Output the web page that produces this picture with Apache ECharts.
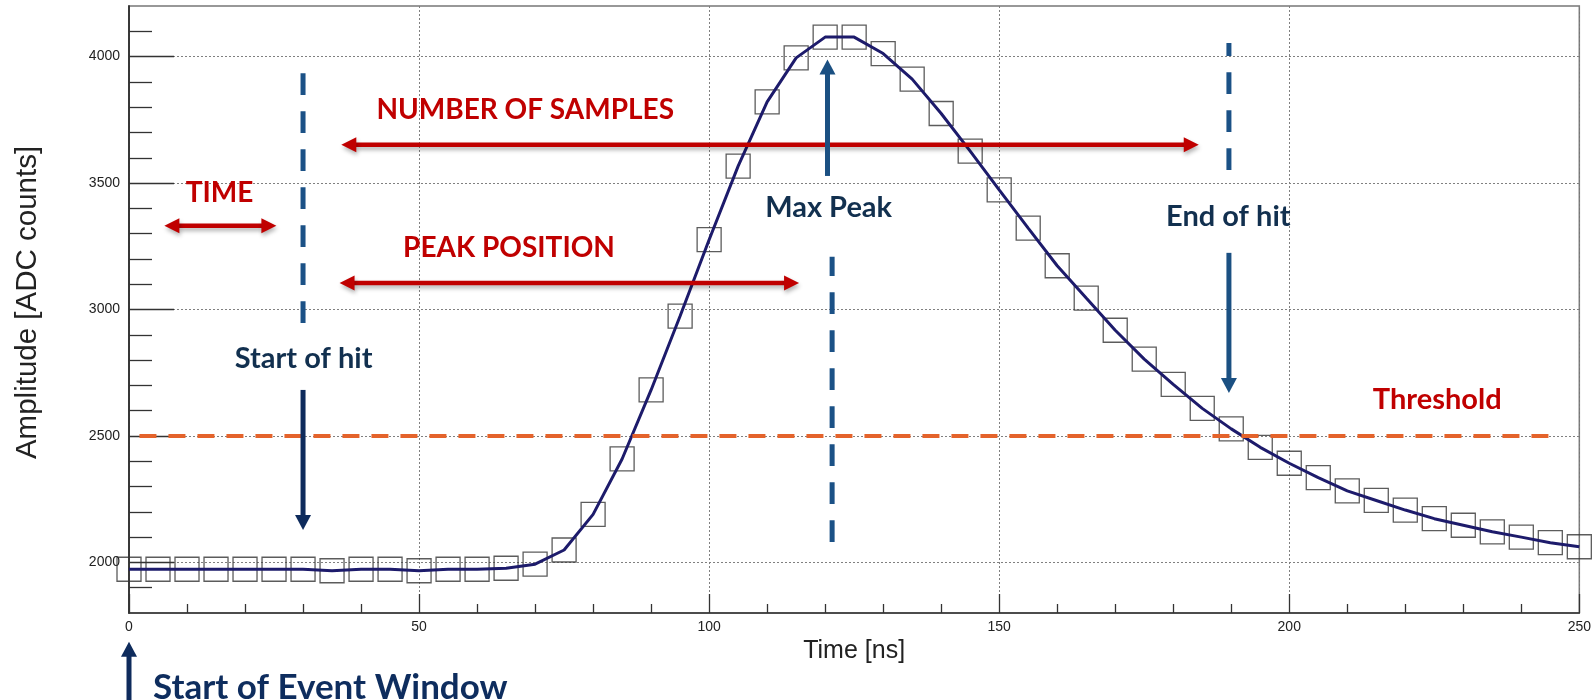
<!DOCTYPE html>
<html><head><meta charset="utf-8">
<script src="https://cdn.jsdelivr.net/npm/echarts@6/dist/echarts.min.js"></script>
<style>html,body{margin:0;padding:0;background:#fff}#c{width:1594px;height:700px}</style>
</head><body><div id="c"></div>
<script>
// ---- data ----
const sampleTimes = [0,5,10,15,20,25,30,35,40,45,50,55,60,65,70,75,80,85,90,95,100,105,110,115,120,125,130,135,140,145,150,155,160,165,170,175,180,185,190,195,200,205,210,215,220,225,230,235,240,245,250];
const amplitudes  = [1973,1973,1973,1973,1973,1973,1973,1967,1973,1973,1967,1973,1973,1977,1993,2049,2190,2409,2682,2974,3276,3567,3821,3995,4077,4077,4012,3911,3775,3626,3473,3322,3173,3045,2918,2804,2704,2609,2528,2455,2392,2335,2283,2245,2207,2173,2147,2121,2100,2078,2062];
const xTickLabels = [0,50,100,150,200,250];
const yMajorTicks = [2000,2500,3000,3500,4000];
const yMinorTicks = [1900,2100,2200,2300,2400,2600,2700,2800,2900,3100,3200,3300,3400,3600,3700,3800,3900,4100];
const thresholdLevel = 2500;

// ---- annotations (data coordinates: [time, amplitude]) ----
const noteTexts = [
  {text:'NUMBER OF SAMPLES', at:[68.3,3789], kind:'red'},
  {text:'TIME', at:[15.6,3461], kind:'red'},
  {text:'PEAK POSITION', at:[65.5,3243], kind:'red'},
  {text:'Threshold', at:[225.5,2642], kind:'red2'},
  {text:'Max Peak', at:[120.6,3401], kind:'navy'},
  {text:'Start of hit', at:[30.1,2806], kind:'navy'},
  {text:'End of hit', at:[189.5,3366], kind:'navy'},
  {text:'Start of Event Window', at:[34.7,1505], kind:'big'}
];
const doubleArrows = [
  {from:[36.6,3651], to:[184.4,3651]},
  {from:[6.1,3331], to:[25.4,3331]},
  {from:[36.3,3105], to:[115.5,3105]}
];
const singleArrows = [
  {from:[30,2682], to:[30,2128], color:'#0e2b5c'},
  {from:[120.4,3528], to:[120.4,3988], color:'#1b5082'},
  {from:[189.6,3224], to:[189.6,2670], color:'#1b5082'},
  {from:[0,1440], to:[0,1686], color:'#0e2b5c'}
];
const dashedMarkers = [
  {from:[30,3934], to:[30,2947]},
  {from:[121.2,2081], to:[121.2,3209]},
  {from:[189.6,3552], to:[189.6,4054]}
];
const thresholdSpan = [1.8, 245.3];

const FONT = "'Liberation Sans', Arial, Helvetica, sans-serif";
const AFONT = "Lato, 'Open Sans', sans-serif";

const chart = echarts.init(document.getElementById('c'), null, {renderer:'canvas'});
const seriesData = sampleTimes.map((t,i)=>[t, amplitudes[i]]);

chart.setOption({
  animation:false,
  backgroundColor:'#ffffff',
  grid:{left:129, right:13, top:6, bottom:87, show:true, borderColor:'#777', borderWidth:1.5, backgroundColor:'#fff'},
  xAxis:{
    type:'value', min:0, max:250, interval:50,
    name:'Time [ns]', nameLocation:'middle', nameGap:26,
    nameTextStyle:{fontFamily:FONT, fontSize:25, color:'#222'},
    axisLine:{show:true, lineStyle:{color:'#333', width:1.5}},
    axisTick:{inside:true, length:19, lineStyle:{color:'#333', width:1.3}},
    minorTick:{show:true, splitNumber:5, length:9, lineStyle:{color:'#333', width:1.3}},
    axisLabel:{fontFamily:FONT, fontSize:14, color:'#222', margin:7,
      formatter:v=> xTickLabels.includes(v) ? String(v) : ''},
    splitLine:{show:true, lineStyle:{color:'#808080', type:[2,2], width:1}}
  },
  yAxis:[{
    type:'value', min:1800, max:4200, position:'left',
    name:'Amplitude [ADC counts]', nameLocation:'middle', nameGap:86,
    nameTextStyle:{fontFamily:FONT, fontSize:29.5, color:'#222', padding:[0,0,0,14]},
    axisLine:{show:true, lineStyle:{color:'#333', width:1.5}},
    axisTick:{customValues:yMajorTicks, inside:true, length:45, lineStyle:{color:'#333', width:1.3}},
    axisLabel:{customValues:yMajorTicks, fontFamily:FONT, fontSize:14, color:'#222', margin:9,
      formatter:v=>String(v)},
    splitLine:{show:true, lineStyle:{color:'#808080', type:[2,2], width:1}}
  },{
    type:'value', min:1800, max:4200, position:'left',
    axisLine:{show:true, lineStyle:{color:'#333', width:1.5}},
    axisTick:{customValues:yMinorTicks, inside:true, length:23, lineStyle:{color:'#333', width:1.3}},
    axisLabel:{show:false},
    splitLine:{show:false}
  }],
  series:[
    {type:'scatter', data:seriesData, symbol:'rect', symbolSize:24, silent:true, z:2,
     itemStyle:{color:'rgba(0,0,0,0)', borderColor:'#333', borderWidth:1.3}},
    {type:'line', data:seriesData, showSymbol:false, symbol:'none', silent:true, z:3,
     lineStyle:{color:'#1d1b6b', width:3}}
  ]
});

function P(c){ return chart.convertToPixel({xAxisIndex:0, yAxisIndex:0}, c); }

function arrowEls(p0, p1, o){
  const dx=p1[0]-p0[0], dy=p1[1]-p0[1], L=Math.hypot(dx,dy), ux=dx/L, uy=dy/L, nx=-uy, ny=ux;
  const hl=o.headLen, hw=o.headW/2, els=[];
  const sh = o.shadow ? {shadowBlur:4, shadowOffsetX:1, shadowOffsetY:3, shadowColor:'rgba(0,0,0,0.3)'} : {};
  let s=[p0[0],p0[1]];
  if(o.double){
    s=[p0[0]+ux*(hl-1), p0[1]+uy*(hl-1)];
    const b=[p0[0]+ux*hl, p0[1]+uy*hl];
    els.push({type:'polygon', z:100, shape:{points:[[p0[0],p0[1]],[b[0]+nx*hw,b[1]+ny*hw],[b[0]-nx*hw,b[1]-ny*hw]]}, style:Object.assign({fill:o.color},sh)});
  }
  const b=[p1[0]-ux*hl, p1[1]-uy*hl];
  els.push({type:'line', z:99, shape:{x1:s[0],y1:s[1],x2:b[0]+ux,y2:b[1]+uy}, style:Object.assign({stroke:o.color, lineWidth:o.width},sh)});
  els.push({type:'polygon', z:100, shape:{points:[[p1[0],p1[1]],[b[0]+nx*hw,b[1]+ny*hw],[b[0]-nx*hw,b[1]-ny*hw]]}, style:Object.assign({fill:o.color},sh)});
  return els;
}

const styles = {
  red:{fill:'#c00000', size:28},
  red2:{fill:'#c00000', size:29},
  navy:{fill:'#12304f', size:29},
  big:{fill:'#0e2d5e', size:35}
};

const g=[];
const t0=P([thresholdSpan[0],thresholdLevel]), t1=P([thresholdSpan[1],thresholdLevel]);
g.push({type:'line', z:90, shape:{x1:t0[0],y1:t0[1],x2:t1[0],y2:t1[1]}, style:{stroke:'#e4632b', lineWidth:4, lineDash:[17,12]}});
dashedMarkers.forEach(d=>{
  const a=P(d.from), b=P(d.to);
  g.push({type:'line', z:95, shape:{x1:a[0],y1:a[1],x2:b[0],y2:b[1]}, style:{stroke:'#1b5186', lineWidth:5, lineDash:[21.7,16.3]}});
});
doubleArrows.forEach(d=>{ arrowEls(P(d.from),P(d.to),{color:'#c00000',width:4.5,headLen:15,headW:15,double:true,shadow:true}).forEach(e=>g.push(e)); });
singleArrows.forEach(d=>{ arrowEls(P(d.from),P(d.to),{color:d.color,width:5,headLen:15,headW:16}).forEach(e=>g.push(e)); });
noteTexts.forEach(n=>{
  const p=P(n.at), s=styles[n.kind];
  g.push({type:'text', z:110, style:{text:n.text, x:p[0], y:p[1], fill:s.fill, fontSize:s.size, fontWeight:'bold', fontFamily:AFONT, align:'center', verticalAlign:'middle', textAlign:'center', textVerticalAlign:'middle'}});
});
chart.setOption({graphic:g});
</script>
</body></html>
